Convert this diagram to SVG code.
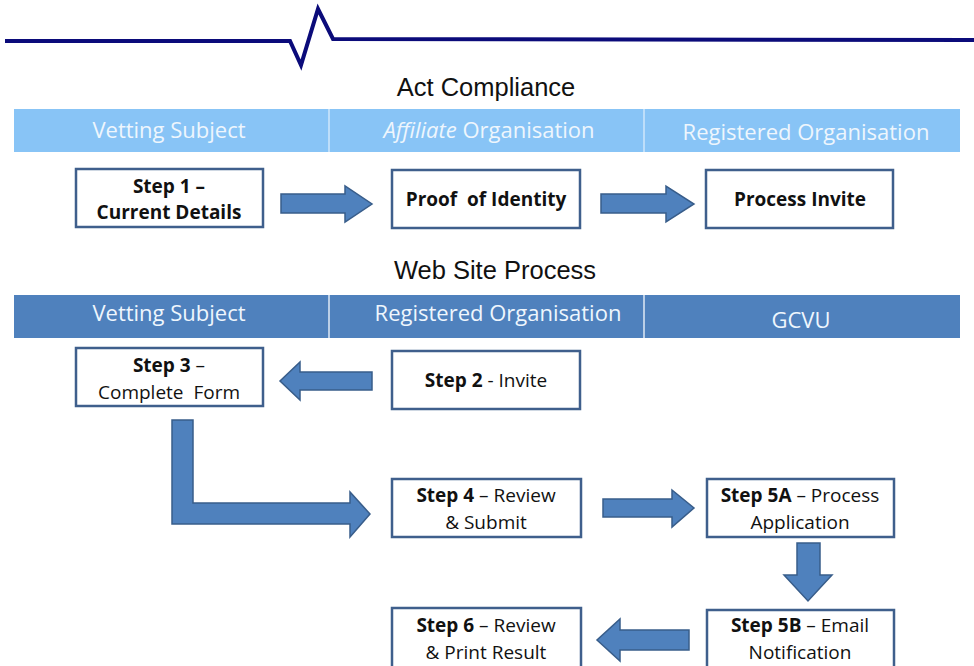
<svg xmlns="http://www.w3.org/2000/svg" width="974" height="666" viewBox="0 0 974 666">
<style>
.title{font-family:"Liberation Sans",Arial,sans-serif;font-size:25.5px;fill:#111;text-anchor:middle}
.bar{font-family:"Open Sans","Liberation Sans",sans-serif;font-size:22px;fill:#eef6fd;text-anchor:middle}
.box{fill:#fff;stroke:#3f5f8c;stroke-width:2.5}
.t{font-family:"Open Sans","Liberation Sans",sans-serif;font-size:19px;fill:#111;text-anchor:middle}
.b{font-weight:bold}
.arr{fill:#4f81bd;stroke:#385d8a;stroke-width:1.5}
</style>
<rect width="974" height="666" fill="#fff"/>
<polyline points="5,41 290,41 301,65 318,9 333,39 974,40" fill="none" stroke="#0b0b7a" stroke-width="4" stroke-linejoin="miter"/>
<text class="title" x="486" y="96">Act Compliance</text>
<g id="bar1">
<rect x="14" y="109" width="946" height="43" fill="#88c4f6"/>
<line x1="329" y1="109" x2="329" y2="152" stroke="#cfe7fb" stroke-width="1.5"/>
<line x1="644" y1="109" x2="644" y2="152" stroke="#cfe7fb" stroke-width="1.5"/>
<text class="bar" x="169" y="138">Vetting Subject</text>
<text class="bar" x="489" y="138"><tspan font-style="italic">Affiliate</tspan> Organisation</text>
<text class="bar" x="806" y="140">Registered Organisation</text>
</g>
<text class="title" x="495" y="279">Web Site Process</text>
<g id="bar2">
<rect x="14" y="295" width="946" height="43" fill="#4f81bd"/>
<line x1="329" y1="295" x2="329" y2="338" stroke="#dfeaf6" stroke-width="1.5"/>
<line x1="644" y1="295" x2="644" y2="338" stroke="#dfeaf6" stroke-width="1.5"/>
<text class="bar" x="169" y="321">Vetting Subject</text>
<text class="bar" x="498" y="321">Registered Organisation</text>
<text class="bar" x="801" y="328">GCVU</text>
</g>
<g id="step1"><rect class="box" x="76" y="169" width="187" height="58"/>
<text class="t b" x="169" y="193">Step 1 –</text><text class="t b" x="169" y="219">Current Details</text></g>
<g id="proof"><rect class="box" x="392" y="170" width="188" height="58"/>
<text class="t b" x="486" y="206" xml:space="preserve">Proof  of Identity</text></g>
<g id="invite"><rect class="box" x="706" y="170" width="187" height="58"/>
<text class="t b" x="800" y="206">Process Invite</text></g>
<g id="step3"><rect class="box" x="76" y="348" width="187" height="58"/>
<text class="t" x="169" y="372"><tspan class="b">Step 3</tspan> –</text><text class="t" x="169" y="399" xml:space="preserve">Complete  Form</text></g>
<g id="step2"><rect class="box" x="392" y="351" width="188" height="58"/>
<text class="t" x="486" y="387"><tspan class="b">Step 2</tspan> - Invite</text></g>
<g id="step4"><rect class="box" x="392" y="479" width="189" height="58"/>
<text class="t" x="486" y="502"><tspan class="b">Step 4</tspan> – Review</text><text class="t" x="486" y="529">&amp; Submit</text></g>
<g id="step5a"><rect class="box" x="707" y="479" width="187" height="58"/>
<text class="t" x="800" y="502"><tspan class="b">Step 5A</tspan> – Process</text><text class="t" x="800" y="529">Application</text></g>
<g id="step5b"><rect class="box" x="707" y="610" width="187" height="58"/>
<text class="t" x="800" y="632"><tspan class="b">Step 5B</tspan> – Email</text><text class="t" x="800" y="659">Notification</text></g>
<g id="step6"><rect class="box" x="392" y="608" width="189" height="60"/>
<text class="t" x="486" y="632"><tspan class="b">Step 6</tspan> – Review</text><text class="t" x="486" y="659">&amp; Print Result</text></g>
<g id="connectors">
<polygon class="arr" points="281,194 345,194 345,186 372,204 345,222 345,213 281,213"/>
<polygon class="arr" points="601,194 666,194 666,186 694,204 666,222 666,213 601,213"/>
<polygon class="arr" points="372,372 300,372 300,362 280,381 300,400 300,390 372,390"/>
<polygon class="arr" points="172,420 193,420 193,503 350,503 350,492 370,514 350,537 350,524 172,524"/>
<polygon class="arr" points="603,499 672,499 672,490 694,508 672,527 672,517 603,517"/>
<polygon class="arr" points="797,543 820,543 820,575 832,575 808,601 784,575 797,575"/>
<polygon class="arr" points="689,630 620,630 620,619 597,640 620,661 620,650 689,650"/>
</g>
</svg>
